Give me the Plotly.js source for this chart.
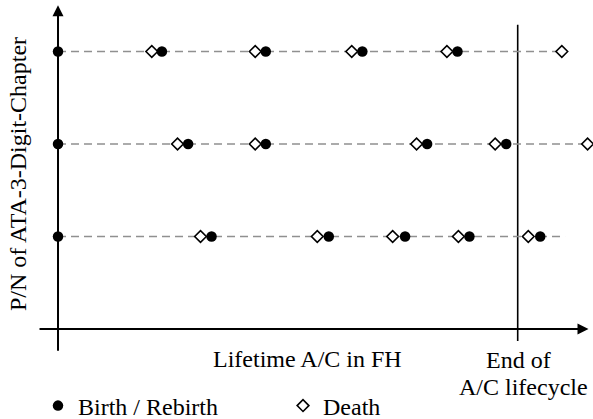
<!DOCTYPE html>
<html>
<head>
<meta charset="utf-8">
<script src="https://cdn.plot.ly/plotly-3.0.1.min.js"></script>
<style>html,body{margin:0;padding:0;background:#fff;}#chart{width:593px;height:419px;}</style>
</head>
<body>
<div id="chart"></div>
<script>
// Lifetime in arbitrary FH units (axis origin = 0, end of A/C lifecycle = 100)
const rowNames = ["P/N 3", "P/N 2", "P/N 1"];
const rowLevels = [3, 2, 1];
const birthTop = [0, 22.6, 45.2, 66.2, 86.9];
const deathTop = [20.4, 42.9, 63.9, 84.6, 109.6];
const birthMid = [0, 28.3, 45.2, 80.3, 97.5];
const deathMid = [26.0, 42.9, 78.0, 95.1, 115.2];
const birthBot = [0, 33.4, 58.9, 75.5, 89.5, 104.9];
const deathBot = [31.0, 56.4, 72.8, 87.1, 102.3];
const rowEnd = [109.6, 115.2, 110.3];
const endOfLifecycle = 100;
const seriesNames = ["Birth / Rebirth", "Death"];
const xAxisTitle = "Lifetime A/C in FH";
const yAxisTitle = "P/N of ATA-3-Digit-Chapter";
const endLabel = ["End of", "A/C lifecycle"];

const births = [birthTop, birthMid, birthBot];
const deaths = [deathTop, deathMid, deathBot];

const FONT = "'Liberation Serif', 'Times New Roman', serif";
const traces = [];
rowLevels.forEach((lv, i) => {
  traces.push({
    x: [0, rowEnd[i]], y: [lv, lv], mode: "lines", showlegend: false, hoverinfo: "skip",
    line: {color: "#909090", width: 1.6, dash: "8px,5px"}
  });
});
const dx = [], dy = [], bx = [], by = [];
rowLevels.forEach((lv, i) => {
  deaths[i].forEach(v => { dx.push(v); dy.push(lv); });
  births[i].forEach(v => { bx.push(v); by.push(lv); });
});
traces.push({
  x: dx, y: dy, mode: "markers", name: seriesNames[1], legendrank: 2,
  marker: {symbol: "diamond", size: 9, color: "#ffffff", line: {color: "#000", width: 1.6}}
});
traces.push({
  x: bx, y: by, mode: "markers", name: seriesNames[0], legendrank: 1,
  marker: {symbol: "circle", size: 10.5, color: "#000", line: {width: 0}}
});

const W = 593, H = 419;
const px = v => v / W, py = v => 1 - v / H;

const layout = {
  width: W, height: H,
  margin: {l: 0, r: 0, t: 0, b: 0, pad: 0, autoexpand: false},
  paper_bgcolor: "#fff", plot_bgcolor: "#fff",
  font: {family: FONT, size: 24, color: "#000"},
  xaxis: {range: [-12.62, 116.38], visible: false, fixedrange: true},
  yaxis: {range: [-0.973, 3.557], visible: false, fixedrange: true},
  showlegend: true,
  legend: {
    orientation: "h", x: px(38), xanchor: "left", y: py(406), yanchor: "middle",
    font: {family: FONT, size: 24, color: "#000"}, entrywidth: 200, entrywidthmode: "pixels",
    bgcolor: "rgba(0,0,0,0)"
  },
  shapes: [
    {type: "line", x0: endOfLifecycle, x1: endOfLifecycle, y0: -0.13, y1: 3.29, xref: "x", yref: "y",
     line: {color: "#000", width: 1.6}, layer: "below"}
  ],
  annotations: [
    {x: 0, y: 3.5, ax: 0, ay: -0.25, xref: "x", yref: "y", axref: "x", ayref: "y", text: "",
     showarrow: true, arrowhead: 2, arrowsize: 1.1, arrowwidth: 2, arrowcolor: "#000", standoff: 0, startstandoff: 0},
    {x: 115.4, y: 0, ax: -4.35, ay: 0, xref: "x", yref: "y", axref: "x", ayref: "y", text: "",
     showarrow: true, arrowhead: 2, arrowsize: 1.1, arrowwidth: 2, arrowcolor: "#000", standoff: 0, startstandoff: 0},
    {x: px(18), y: py(174), xref: "paper", yref: "paper", text: yAxisTitle, textangle: -90, showarrow: false,
     xanchor: "center", yanchor: "middle", font: {family: FONT, size: 24, color: "#000"}},
    {x: px(307.5), y: py(358.7), xref: "paper", yref: "paper", text: xAxisTitle, showarrow: false,
     xanchor: "center", yanchor: "middle", font: {family: FONT, size: 24, color: "#000"}},
    {x: px(518.5), y: py(360), xref: "paper", yref: "paper", text: endLabel[0], showarrow: false,
     xanchor: "center", yanchor: "middle", font: {family: FONT, size: 24, color: "#000"}},
    {x: px(523.5), y: py(387), xref: "paper", yref: "paper", text: endLabel[1], showarrow: false,
     xanchor: "center", yanchor: "middle", font: {family: FONT, size: 24, color: "#000"}}
  ]
};

Plotly.newPlot("chart", traces, layout, {displayModeBar: false, staticPlot: true});
</script>
</body>
</html>
